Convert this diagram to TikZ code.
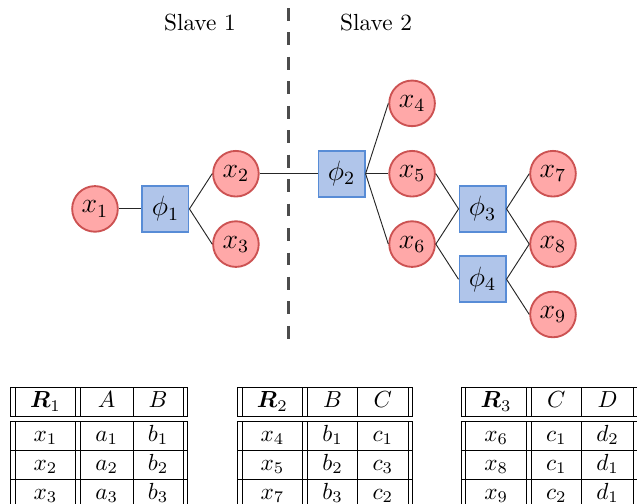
\documentclass[tikz,border=0pt]{standalone}
\usepackage{amsmath,amssymb}
\usepackage{tikz}
\usetikzlibrary{positioning}
\definecolor{varfill}{RGB}{255,168,168}
\definecolor{vardraw}{RGB}{204,82,82}
\definecolor{facfill}{RGB}{176,197,234}
\definecolor{facdraw}{RGB}{88,140,214}
\setlength{\tabcolsep}{6.4pt}
\tikzset{
  var/.style   = {circle, draw=vardraw, fill=varfill, thick, minimum size=19.6pt,
                  inner sep=0pt, font=\large},
  fac/.style   = {rectangle, draw=facdraw, fill=facfill, thick, minimum size=19.8pt,
                  inner sep=0pt, font=\large},
  edge/.style  = {black!85},
  split/.style = {line width=1pt, black!70, dash pattern=on 5.5pt off 5pt},
  tab/.style   = {inner sep=0pt, anchor=north west},
}

\begin{document}
\begin{tikzpicture}[x=1.0635cm,y=0.531cm]
  \useasboundingbox (-1.348,-8.381) rectangle (7.692,5.938);
  % split between slaves
  \coordinate (cut top) at (2.746,5.71);
  \coordinate (cut bot) at (2.746,-3.835);
  \draw[split] (cut top) -- (cut bot);
  \node[anchor=base] (slave1) at (1.49,5.085) {Slave 1};
  \node[anchor=base] (slave2) at (3.99,5.085) {Slave 2};
  % variables
  \foreach \n/\x/\y/\i in {x1/0/0/1, x2/2/1/2, x3/2/-1/3, x4/4.5/3/4, x5/4.5/1/5,
                           x6/4.5/-1/6, x7/6.5/1/7, x8/6.5/-1/8, x9/6.5/-3/9}
    {\node[var] (\n) at (\x,\y) {$x_{\i}$};}
  % factors
  \foreach \n/\x/\y/\i in {f1/1/0/1, f2/3.5/1/2, f3/5.5/0/3, f4/5.5/-2/4}
    {\node[fac] (\n) at (\x,\y) {$\phi_{\i}$};}
  % edges
  \foreach \a/\b in {x1/f1, f1/x2, f1/x3, x2/f2, f2/x4, f2/x5, f2/x6, x5/f3,
                     x6/f3, x6/f4, f3/x7, f3/x8, f4/x8, f4/x9}
    {\draw[edge] (\a.east) -- (\b.west);}
  % tables
  \node[tab] (rel1) at (-1.206,-5.057) {%
    \begin{tabular}{||c||c|c||}
      \hline
      $\boldsymbol{R}_1$ & $A$ & $B$ \\ \hline\hline
      $x_1$ & $a_1$ & $b_1$ \\ \hline
      $x_2$ & $a_2$ & $b_2$ \\ \hline
      $x_3$ & $a_3$ & $b_3$ \\ \hline
    \end{tabular}};
  \node[tab] (rel2) at (2.015,-5.057) {%
    \begin{tabular}{||c||c|c||}
      \hline
      $\boldsymbol{R}_2$ & $B$ & $C$ \\ \hline\hline
      $x_4$ & $b_1$ & $c_1$ \\ \hline
      $x_5$ & $b_2$ & $c_3$ \\ \hline
      $x_7$ & $b_3$ & $c_2$ \\ \hline
    \end{tabular}};
  \node[tab] (rel3) at (5.19,-5.057) {%
    \begin{tabular}{||c||c|c||}
      \hline
      $\boldsymbol{R}_3$ & $C$ & $D$ \\ \hline\hline
      $x_6$ & $c_1$ & $d_2$ \\ \hline
      $x_8$ & $c_1$ & $d_1$ \\ \hline
      $x_9$ & $c_2$ & $d_1$ \\ \hline
    \end{tabular}};
\end{tikzpicture}
\end{document}
